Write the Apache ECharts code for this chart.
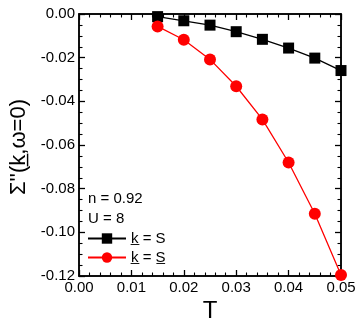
<!DOCTYPE html>
<html>
<head>
<meta charset="utf-8">
<script src="https://cdn.jsdelivr.net/npm/echarts@6/dist/echarts.min.js"></script>
<style>
  html, body { margin: 0; padding: 0; background: #fff; }
  #chart { width: 360px; height: 327px; }
</style>
</head>
<body>
<div id="chart"></div>
<script>
// temperatures and Im Sigma values
const temps = [0.015, 0.02, 0.025, 0.03, 0.035, 0.04, 0.045, 0.05];
const sigmaS = [-0.0012, -0.0031, -0.0051, -0.0081, -0.0116, -0.0156, -0.0202, -0.0259];
const sigmaSbar = [-0.0057, -0.0118, -0.0208, -0.0331, -0.0483, -0.068, -0.0915, -0.1195];
const xTicks = [0, 0.05, 0.01];
const yTicks = [-0.12, 0, 0.02];
const seriesNames = ['k\u0332 = S', 'k\u0332 = S\u0332'];
const notes = ['n = 0.92', 'U = 8'];

const font = 'Liberation Sans, Arial, sans-serif';
const chart = echarts.init(document.getElementById('chart'));

function axisLook(split) {
  return {
    axisLine: { show: true, onZero: false, lineStyle: { color: '#000', width: 1.5 } },
    axisTick: { show: true, inside: true, length: 6, lineStyle: { color: '#000', width: 1.3 } },
    minorTick: { show: true, splitNumber: split, length: 3.5, lineStyle: { color: '#000', width: 1.1 } },
    splitLine: { show: false }
  };
}

const option = {
  animation: false,
  grid: { left: 79, right: 19, top: 14, bottom: 51, show: true, borderColor: '#000', borderWidth: 1.5 },
  xAxis: [
    Object.assign({ type: 'value', min: xTicks[0], max: xTicks[1], interval: xTicks[2],
      axisLabel: { fontFamily: font, fontSize: 15, color: '#000', margin: 4, formatter: v => v.toFixed(2) } }, axisLook(5)),
    Object.assign({ type: 'value', position: 'top', min: xTicks[0], max: xTicks[1], interval: xTicks[2],
      axisLabel: { show: false } }, axisLook(5))
  ],
  yAxis: [
    Object.assign({ type: 'value', min: yTicks[0], max: yTicks[1], interval: yTicks[2],
      axisLabel: { fontFamily: font, fontSize: 15, color: '#000', margin: 4, formatter: v => v.toFixed(2) } }, axisLook(4)),
    Object.assign({ type: 'value', position: 'right', min: yTicks[0], max: yTicks[1], interval: yTicks[2],
      axisLabel: { show: false } }, axisLook(4))
  ],
  legend: {
    left: 87, top: 231, orient: 'vertical', padding: 0, itemGap: 4,
    itemWidth: 38, itemHeight: 13,
    textStyle: { fontFamily: font, fontSize: 15, color: '#000' },
    data: seriesNames
  },
  graphic: [
    { type: 'text', x: 88, y: 199, style: { text: notes[0], font: '15px ' + font, fill: '#000', verticalAlign: 'middle' } },
    { type: 'text', x: 88, y: 219, style: { text: notes[1], font: '15px ' + font, fill: '#000', verticalAlign: 'middle' } },
    { type: 'text', x: 210, y: 311, style: { text: 'T', font: '24px ' + font, fill: '#000', align: 'center', verticalAlign: 'middle' } },
    { type: 'text', x: 19, y: 147, rotation: Math.PI / 2,
      style: { text: 'Σ\'\'(k\u0332,ω=0)', font: '22px ' + font, fill: '#000', align: 'center', verticalAlign: 'middle' } }
  ],
  series: [
    {
      name: seriesNames[0], type: 'line', symbol: 'rect', symbolSize: 11,
      data: temps.map((t, i) => [t, sigmaS[i]]),
      itemStyle: { color: '#000' }, lineStyle: { color: '#000', width: 1.3 }
    },
    {
      name: seriesNames[1], type: 'line', symbol: 'circle', symbolSize: 12,
      data: temps.map((t, i) => [t, sigmaSbar[i]]),
      itemStyle: { color: '#ff0000' }, lineStyle: { color: '#ff0000', width: 1.3 }
    }
  ]
};
chart.setOption(option);
</script>
</body>
</html>
